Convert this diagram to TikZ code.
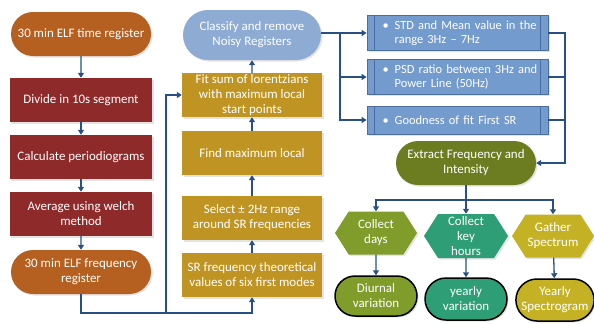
\documentclass[tikz,border=0pt]{standalone}
\usepackage{fontspec}
\setmainfont{Carlito}
\usetikzlibrary{arrows.meta,shapes.misc,shapes.symbols,shadows}

\begin{document}
\begin{tikzpicture}[x=1bp, y=-1bp,
    %Option for nice arrows
    >={Triangle[length=5bp,width=6bp]}, %
    font=\fontsize{13}{15}\selectfont,%
    flow/.style={->, line width=1.3bp, color=linkblue},
    link/.style={-, line width=1.3bp, color=linkblue},
    base/.style={text=white, align=center, inner sep=1bp,
        drop shadow={opacity=0.22, shadow xshift=1.5bp, shadow yshift=-1.5bp}},
    process/.style={base, rectangle, fill=#1, minimum width=142bp, minimum height=44bp},
    terminal/.style={base, rounded rectangle, fill=#1, minimum width=142bp, minimum height=44bp},
    predef/.style={base, rectangle, fill=boxblue, draw=edgeblue, line width=0.8bp,
        minimum width=181bp, minimum height=#1, text width=150bp, align=left,
        font=\fontsize{12.5}{14.5}\selectfont},
    hexa/.style={base, signal, signal to=west and east, signal pointer angle=115,
        fill=#1, minimum width=82bp, minimum height=43bp, inner sep=0pt},
    result/.style={terminal=#1, draw=black, line width=1.5bp, minimum width=84bp, minimum height=40bp},
]
    % Colors
    \definecolor{orangebrown}{RGB}{181,96,32}
    \definecolor{darkred}{RGB}{142,42,42}
    \definecolor{mustard}{RGB}{191,148,34}
    \definecolor{lightblue}{RGB}{141,171,211}
    \definecolor{boxblue}{RGB}{115,155,205}
    \definecolor{edgeblue}{RGB}{75,110,160}
    \definecolor{olive}{RGB}{108,124,33}
    \definecolor{grassgreen}{RGB}{128,156,42}
    \definecolor{teal}{RGB}{46,158,118}
    \definecolor{yellowolive}{RGB}{196,178,36}
    \definecolor{linkblue}{RGB}{40,80,130}

    % Frame
    \useasboundingbox (0,0) rectangle (594,323);

    % Spectrum estimation
    \node[terminal=orangebrown] (t1) at (81,34)  {30 min ELF time register};
    \node[process=darkred]      (d1) at (81,100) {Divide in 10s segment};
    \node[process=darkred]      (d2) at (81,157) {Calculate periodiograms};
    \node[process=darkred]      (d3) at (81,214) {Average using welch\\method};
    \node[terminal=orangebrown] (f1) at (81,272) {30 min ELF frequency\\register};

    % Fitting of the modes
    \node[terminal=lightblue, minimum width=140bp, minimum height=50bp] (c1) at (252,35) {Classify and remove\\Noisy Registers};
    \node[process=mustard, minimum width=140bp] (m1) at (252,95)  {Fit sum of lorentzians\\with maximum local\\start points};
    \node[process=mustard, minimum width=140bp] (m2) at (252,153) {Find maximum local};
    \node[process=mustard, minimum width=140bp] (m3) at (252,218) {Select ± 2Hz range\\around SR frequencies};
    \node[process=mustard, minimum width=140bp] (m4) at (252,275) {SR frequency theoretical\\values of six first modes};

    % Criteria
    \node[predef=35bp] (r1) at (457.5,33)
        {\mbox{\textbullet\hspace{6bp}STD and Mean value in the}\\\mbox{\phantom{\textbullet\hspace{6bp}}range 3Hz -- 7Hz}};
    \node[predef=35bp] (r2) at (457.5,77)
        {\mbox{\textbullet\hspace{6bp}PSD ratio between 3Hz and}\\\mbox{\phantom{\textbullet\hspace{6bp}}Power Line (50Hz)}};
    \node[predef=28bp] (r3) at (457.5,120)
        {\mbox{\textbullet\hspace{6bp}Goodness of fit First SR}};
    \foreach \n in {r1,r2,r3}
        \draw[edgeblue, line width=0.8bp]
            ([xshift=8bp]\n.north west) -- ([xshift=8bp]\n.south west)
            ([xshift=-8bp]\n.north east) -- ([xshift=-8bp]\n.south east);

    % Outputs
    \node[terminal=olive] (e1) at (466,163) {Extract Frequency and\\Intensity};
    \node[hexa=grassgreen]  (h1) at (376,233) {Collect\\days};
    \node[hexa=teal, minimum width=84bp, minimum height=44bp] (h2) at (466,236) {Collect\\key\\hours};
    \node[hexa=yellowolive] (h3) at (553,236) {Gather\\Spectrum};
    \node[result=grassgreen] (s1) at (376,296) {Diurnal\\variation};
    \node[result=teal, minimum height=42bp] (s2) at (466,299) {yearly\\variation};
    \node[result=yellowolive, minimum width=76bp, minimum height=42bp] (s3) at (555,300) {Yearly\\Spectrogram};

    % Connectors
    \foreach \a/\b in {t1/d1, d1/d2, d2/d3, d3/f1, m4/m3, m3/m2, m2/m1, m1/c1, h1/s1, h2/s2, h3/s3}
        \draw[flow] (\a) -- (\b);

    \coordinate (jb) at (166,313);
    \draw[flow] (f1.south) |- (jb) -| (m4.south);
    \draw[flow] (jb) |- (m1.west);

    \coordinate (jc) at (340,33);
    \draw[link] (c1.east |- jc) -- (jc);
    \draw[flow] (jc) -- (r1.west);
    \draw[flow] (jc) |- (r2.west);
    \draw[flow] (jc) |- (r3.west);

    \coordinate (jr) at (565,163);
    \draw[flow] (r1.east) -| (jr) -- (e1.east);
    \draw[link] (r2.east) -- (r2.east -| jr);
    \draw[link] (r3.east) -- (r3.east -| jr);

    \coordinate (je) at (466,200);
    \draw[link] (e1.south) -- (je);
    \draw[flow] (je) -| (h1.north);
    \draw[flow] (je) -- (h2.north);
    \draw[flow] (je) -| (h3.north);
\end{tikzpicture}
\end{document}
